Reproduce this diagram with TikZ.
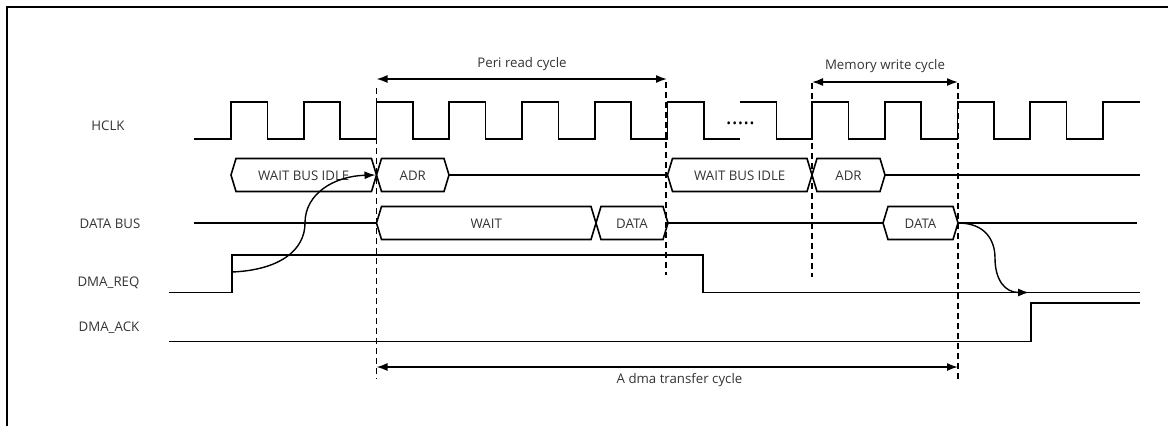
\documentclass[tikz,border=0pt]{standalone}
\usepackage{fontspec}
\setmainfont{Open Sans}
\usetikzlibrary{arrows.meta}
\begin{document}
\begin{tikzpicture}[x=1bp,y=-1bp,
  sig/.style={line width=1.6bp, line join=miter},
  frame/.style={line width=1.7bp},
  guide/.style={line width=1.5bp, dash pattern=on 6bp off 4bp},
  span/.style={line width=1.6bp, {Latex[length=11bp,width=8bp]}-{Latex[length=11bp,width=8bp]}},
  cause/.style={line width=1.4bp, -{Latex[length=11bp,width=8bp]}},
  lbl/.style={font=\fontsize{13.3}{15}\selectfont, inner sep=0pt, anchor=base, text=black!80},
]
\useasboundingbox (0,0) rectangle (1168,426);
% frame
\draw[frame] (7,426) -- (7,7) -- (1168,7);

% signal names
\node[lbl] (nclk) at (108,130.5) {HCLK};
\node[lbl] (ndata) at (110,228.5) {DATA BUS};
\node[lbl] (nreq) at (108.5,286) {DMA\_REQ};
\node[lbl] (nack) at (109,331.5) {DMA\_ACK};

% HCLK
\draw[sig] (194,139) -- (231,139)
  foreach \k in {0,...,6} { -- ({231+72.75*\k},139) -- ({231+72.75*\k},102)
    -- ({231+72.75*\k+36.4},102) -- ({231+72.75*\k+36.4},139) } -- (740,139);
\draw[sig] (740,102) -- (776.4,102) -- (776.4,139) -- (812,139)
  foreach \k in {0,...,3} { -- ({812+72.75*\k},139) -- ({812+72.75*\k},102)
    -- ({812+72.75*\k+36.4},102) -- ({812+72.75*\k+36.4},139) }
  -- (1103,139) -- (1103,102) -- (1140,102);
\node[font=\fontsize{22}{22}\selectfont, inner sep=0pt, anchor=base] (ndots) at (740.5,124) {.....};

% address lane (centre 175)
\newcommand\hexlane[4]{%
  \draw[sig] (#1,#3) -- ({#1+5},{#3-16.5}) -- ({#2-5},{#3-16.5}) -- (#2,#3)
    -- ({#2-5},{#3+16.5}) -- ({#1+5},{#3+16.5}) -- cycle;
  \node[lbl] (#4) at ({(#1+#2)/2},{#3+5.5}) {\csname txt#4\endcsname};}
\def\txtawa{WAIT BUS IDLE}\def\txtaadr{ADR}\def\txtawb{WAIT BUS IDLE}\def\txtaadrb{ADR}
\def\txtdwait{WAIT}\def\txtdda{DATA}\def\txtddb{DATA}
\hexlane{231}{376.5}{175}{awa}
\hexlane{376.5}{449}{175}{aadr}
\draw[sig] (449,175) -- (667.5,175);
\hexlane{667.5}{812}{175}{awb}
\hexlane{812}{885}{175}{aadrb}
\draw[sig] (885,175) -- (1140,175);

% data lane (centre 223)
\draw[sig] (194,223) -- (376.5,223);
\hexlane{376.5}{596}{223}{dwait}
\hexlane{596}{668}{223}{dda}
\draw[sig] (668,223) -- (883,223);
\hexlane{883}{958}{223}{ddb}
\draw[sig] (958,223) -- (1137,223);

% DMA_REQ
\draw[sig] (169,292.5) -- (232,292.5) -- (232,255) -- (703,255) -- (703,292.5) -- (1140,292.5);
% DMA_ACK
\draw[sig] (169,341.5) -- (1031,341.5) -- (1031,303) -- (1140,303);

% guides
\coordinate (g1t) at (376.5,88);  \coordinate (g1b) at (376.5,379);
\coordinate (g2t) at (666,82);    \coordinate (g2b) at (666,275);
\coordinate (g3t) at (812,83);    \coordinate (g3b) at (812,277);
\coordinate (g4t) at (958,83);    \coordinate (g4b) at (958,380);
\draw[guide] (g1t) -- (g1b);
\draw[guide] (g2t) -- (g2b);
\draw[guide] (g3t) -- (g3b);
\draw[guide] (g4t) -- (g4b);

% spans
\coordinate (p1) at (376.5,79); \coordinate (p2) at (667,79);
\draw[span] (p1) -- (p2);
\node[lbl] (tperi) at (522,67.3) {Peri read cycle};
\coordinate (m1) at (812,82); \coordinate (m2) at (958,82);
\draw[span] (m1) -- (m2);
\node[lbl] (tmem) at (885,69.5) {Memory write cycle};
\coordinate (d1) at (376.5,367); \coordinate (d2) at (958,367);
\draw[span] (d1) -- (d2);
\node[lbl] (tdma) at (679.5,383) {A dma transfer cycle};

% causal arrows
\coordinate (reqrise) at (232,272);
\coordinate (adrstart) at (375.5,175);
\draw[cause] (reqrise) .. controls (280,270) and (305,250) .. (305,223)
  .. controls (305,193) and (335,176) .. (adrstart);
\coordinate (dataend) at (958,223);
\coordinate (reqlow) at (1029,292.5);
\draw[cause] (dataend) .. controls (985,223) and (995,240) .. (995,258)
  .. controls (995,280) and (1005,292.5) .. (reqlow);
\end{tikzpicture}
\end{document}
